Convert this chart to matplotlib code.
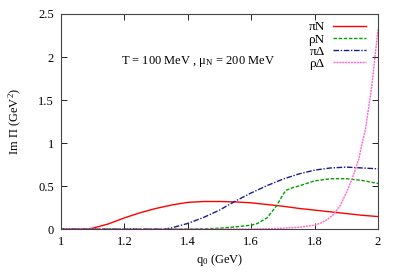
import matplotlib
matplotlib.use("Agg")
import matplotlib.pyplot as plt

plt.rcParams['font.family'] = ['Liberation Serif', 'DejaVu Serif']
plt.rcParams['mathtext.fontset'] = 'custom'
plt.rcParams['mathtext.rm'] = 'Liberation Serif'
plt.rcParams['mathtext.it'] = 'Liberation Serif'

# pi N
q_piN = [1.00, 1.05, 1.08, 1.10, 1.15, 1.20, 1.25, 1.30, 1.35, 1.40, 1.45, 1.50,
         1.55, 1.60, 1.65, 1.70, 1.75, 1.80, 1.85, 1.90, 1.95, 2.00]
im_piN = [0.0, 0.0, 0.0, 0.01, 0.06, 0.13, 0.19, 0.24, 0.28, 0.31, 0.32, 0.32,
          0.315, 0.305, 0.285, 0.265, 0.24, 0.22, 0.20, 0.18, 0.16, 0.145]

# rho N
q_rhoN = [1.00, 1.40, 1.45, 1.50, 1.55, 1.60, 1.62, 1.65, 1.68, 1.70, 1.71, 1.73,
          1.75, 1.80, 1.85, 1.90, 1.95, 2.00]
im_rhoN = [0.0, 0.0, 0.003, 0.01, 0.025, 0.045, 0.065, 0.13, 0.27, 0.40, 0.45, 0.48,
           0.50, 0.56, 0.585, 0.585, 0.565, 0.53]

# pi Delta
q_piD = [1.00, 1.30, 1.33, 1.35, 1.40, 1.45, 1.50, 1.55, 1.60, 1.65, 1.70, 1.75,
         1.80, 1.85, 1.90, 1.95, 2.00]
im_piD = [0.0, 0.0, 0.0, 0.015, 0.065, 0.135, 0.22, 0.325, 0.42, 0.505, 0.58, 0.64,
          0.685, 0.71, 0.72, 0.71, 0.70]

# rho Delta
q_rhoD = [1.00, 1.60, 1.65, 1.70, 1.75, 1.80, 1.82, 1.84, 1.86, 1.88, 1.90, 1.92,
          1.94, 1.95, 1.96, 1.98, 2.00]
im_rhoD = [0.0, 0.0, 0.003, 0.01, 0.02, 0.045, 0.07, 0.11, 0.17, 0.27, 0.42, 0.60,
           0.82, 1.0, 1.15, 1.65, 2.32]

fig = plt.figure(figsize=(4, 2.8), dpi=100)
ax = fig.add_axes([0.1525, 0.182, 0.7925, 0.768])

ax.plot(q_piN, im_piN, color='#ff0000', lw=1.0, ls='-', label='πN')
ax.plot(q_rhoN, im_rhoN, color='#00a000', lw=1.0, ls=(0, (2.5, 1.2)), label='ρN')
ax.plot(q_piD, im_piD, color='#1a1a8c', lw=1.0, ls=(0, (4, 1.2, 1, 1.2)), label='πΔ')
ax.plot(q_rhoD, im_rhoD, color='#ff66cc', lw=1.0, ls=(0, (1.5, 0.6)), label='ρΔ')

ax.set_xlim(1, 2)
ax.set_ylim(0, 2.5)
ax.set_xticks([1, 1.2, 1.4, 1.6, 1.8, 2])
ax.set_xticklabels(['1', '1.2', '1.4', '1.6', '1.8', '2'])
ax.set_yticks([0, 0.5, 1, 1.5, 2, 2.5])
ax.set_yticklabels(['0', '0.5', '1', '1.5', '2', '2.5'])
ax.tick_params(direction='in', top=True, right=True, length=4, width=0.6,
               labelsize=9, pad=5)
for s in ax.spines.values():
    s.set_linewidth(0.8)
    s.set_color('#444444')

ax.set_xlabel('q$_0$ (GeV)', fontsize=9, labelpad=3)
ax.set_ylabel('Im Π (GeV$^2$)', fontsize=9, labelpad=10)

ax.text(1.19, 1.95, 'T = 100 MeV , μ$_\\mathrm{N}$ = 200 MeV', fontsize=9,
        va='center', ha='left')

ax.legend(frameon=False, markerfirst=False, loc='upper right',
          bbox_to_anchor=(0.99, 1.01), fontsize=9.5, handlelength=2.5,
          labelspacing=0.0, handletextpad=0.6, borderpad=0.2)

fig.savefig('out.png', dpi=100)
